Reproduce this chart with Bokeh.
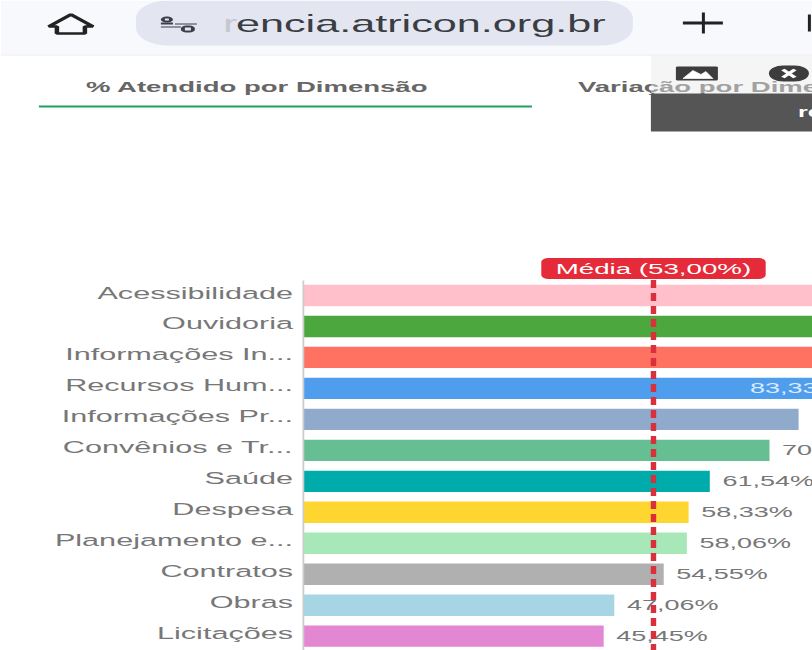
from bokeh.document import Document
from bokeh.embed import file_html
from bokeh.resources import INLINE
from bokeh.plotting import figure
from bokeh.models import Label, BoxAnnotation, PolyAnnotation, FixedTicker, Range1d, CustomJS
from bokeh.core.properties import value

CATEGORIES = ["Acessibilidade", "Ouvidoria", "Informações In...", "Recursos Hum...", "Informações Pr...",
              "Convênios e Tr...", "Saúde", "Despesa", "Planejamento e...", "Contratos", "Obras", "Licitações"]
VALUES = [100.0, 100.0, 100.0, 83.33, 75.0, 70.59, 61.54, 58.33, 58.06, 54.55, 47.06, 45.45]
LABELS = ["100,00%", "100,00%", "100,00%", "83,33%", "75,00%", "70,59%", "61,54%", "58,33%", "58,06%", "54,55%", "47,06%", "45,45%"]
COLORS = ["#FFC0CB", "#4CA73F", "#FF7160", "#4F9EEE", "#8FAACB", "#66BF92", "#00ABAB", "#FFD630", "#A8E8B8", "#B0B0B0", "#A6D5E3", "#E387D2"]
MEAN = 53.0
MEAN_LABEL = "Média (53,00%)"
FONT = "Liberation Sans"

# The reference is a screenshot squeezed into a wider box: the whole page is stretched horizontally.
W, H = 451, 650
SX = 812 / W

def X(px):  # page pixel -> frame screen x
    return px / SX

def Y(py):  # page pixel -> frame screen y (counted from the bottom)
    return H - py

idx = list(range(len(CATEGORIES)))
outside = [i for i in idx if VALUES[i] < 80]
inside = [i for i in idx if 80 <= VALUES[i] < 90]

p = figure(width=W, height=H, output_backend="svg", toolbar_location=None,
           x_range=Range1d(-45.94, 77.17), y_range=Range1d(11.463, -9.525),
           min_border_left=0, min_border_top=0, min_border_right=0, min_border_bottom=0,
           x_axis_location=None, outline_line_color=None)
p.grid.visible = False

p.hbar(y=idx, left=0, right=VALUES, height=0.69, color=COLORS, line_color=None)
p.text(x=[VALUES[i] for i in outside], y=[idx[i] for i in outside], text=[LABELS[i] for i in outside],
       x_offset=7, y_offset=-1, text_align="left", text_baseline="middle", text_color="#777777",
       text_font=value(FONT), text_font_size="15px")
p.text(x=[VALUES[i] for i in inside], y=[idx[i] for i in inside], text=[LABELS[i] for i in inside],
       x_offset=-57.5, y_offset=-1, text_align="left", text_baseline="middle", text_color="#dceafb",
       text_font=value(FONT), text_font_size="15px")
p.segment(x0=[MEAN], x1=[MEAN], y0=[-0.5], y1=[11.5], line_color="#D9303C", line_width=3, line_dash="8 5")

ax = p.yaxis[0]
TICKS = [i - 0.08 for i in idx]
ax.fixed_location = 0
ax.bounds = (-0.5, 11.5)
ax.ticker = FixedTicker(ticks=TICKS)
ax.major_label_overrides = {t: c for t, c in zip(TICKS, CATEGORIES)}
ax.major_tick_line_color = None
ax.minor_tick_line_color = None
ax.axis_line_color = "#cccccc"
ax.axis_line_width = 1
ax.major_label_standoff = 0
ax.major_label_text_color = "#777777"
ax.major_label_text_font = FONT
ax.major_label_text_font_size = "17px"

def box(l, r, t, b, color, alpha=1.0, **kw):
    p.add_layout(BoxAnnotation(left=X(l), right=X(r), top=Y(t), bottom=Y(b), left_units="screen", right_units="screen",
                               top_units="screen", bottom_units="screen", fill_color=color, fill_alpha=alpha,
                               line_color=None, **kw))

def label(x, y, text, size, color, style="normal"):
    p.add_layout(Label(x=X(x), y=Y(y), x_units="screen", y_units="screen", text=text, text_font=FONT,
                       text_font_size=size, text_color=color, text_font_style=style,
                       text_baseline="middle", text_align="left"))

def poly(pts, color, width=2.5, fill=None):
    p.add_layout(PolyAnnotation(xs=[X(a) for a, b in pts], ys=[Y(b) for a, b in pts],
                                xs_units="screen", ys_units="screen", line_color=color, line_alpha=1,
                                line_width=width, fill_color=fill, fill_alpha=1 if fill else 0))

# browser bar
box(0, 812, 0, 54, "#F8F9FC")
box(0, 812, 54, 55, "#ececf0")
box(135, 632, 0, 45, "#E3E6F0", border_radius=18)
poly([(70, 14), (92, 26), (84, 26), (84, 33), (56, 33), (56, 26), (48, 26)], "#222222", 2.5)
box(160, 172, 22, 24, "#3c3f48")
box(174, 196, 23, 24, "#3c3f48")
box(160, 180, 26, 27, "#3c3f48")
box(160, 172, 16, 22, "#3c3f48", border_radius=3)
box(164, 168, 18, 20, "#E3E6F0")
box(180, 194, 25, 32, "#3c3f48", border_radius=3)
box(184, 190, 27, 30, "#E3E6F0")
label(222, 23, "r", "24px", "#c4c8d0")
label(235, 23, "encia.atricon.org.br", "24px", "#3a3d44")
box(682, 722, 21, 24, "#222222")
box(701, 704, 12, 33, "#222222")
box(807, 810, 14, 31, "#222222")

# tabs
label(85, 86, "% Atendido por Dimensão", "15.3px", "#666666", "bold")
label(577, 86, "Variação por Dimensão", "15.3px", "#666666", "bold")
box(38, 531, 105, 107, "#1FA060")

# pop-up over the page
box(650, 812, 55, 93, "#e9e9e9", alpha=0.45)
box(675, 717, 66, 80, "#3d3d3d", border_radius=1)
poly([(682, 78), (692, 70), (700, 74), (705, 71), (712, 78)], "#ffffff", 0.5, "#ffffff")
box(768, 808, 65, 81, "#3d3d3d", border_radius=8)
poly([(782, 69), (794, 77)], "#ffffff", 2.5)
poly([(794, 69), (782, 77)], "#ffffff", 2.5)
box(650, 812, 93, 131, "#555555")
label(797, 112, "re", "14px", "#ffffff", "bold")

# mean tag
p.add_layout(Label(x=MEAN, y=Y(268), x_units="data", y_units="screen", text=MEAN_LABEL, text_font=FONT,
                   text_font_size="15.4px", text_color="#ffffff", text_align="center", text_baseline="middle",
                   background_fill_color="#E52B39", padding=(8, 2), border_radius=4))

doc = Document()
doc.add_root(p)
doc.js_on_event("document_ready", CustomJS(code=f"""
document.body.style.transformOrigin = '0 0';
document.body.style.transform = 'scaleX({SX})';
"""))
open("out.html", "w").write(file_html(doc, INLINE))
